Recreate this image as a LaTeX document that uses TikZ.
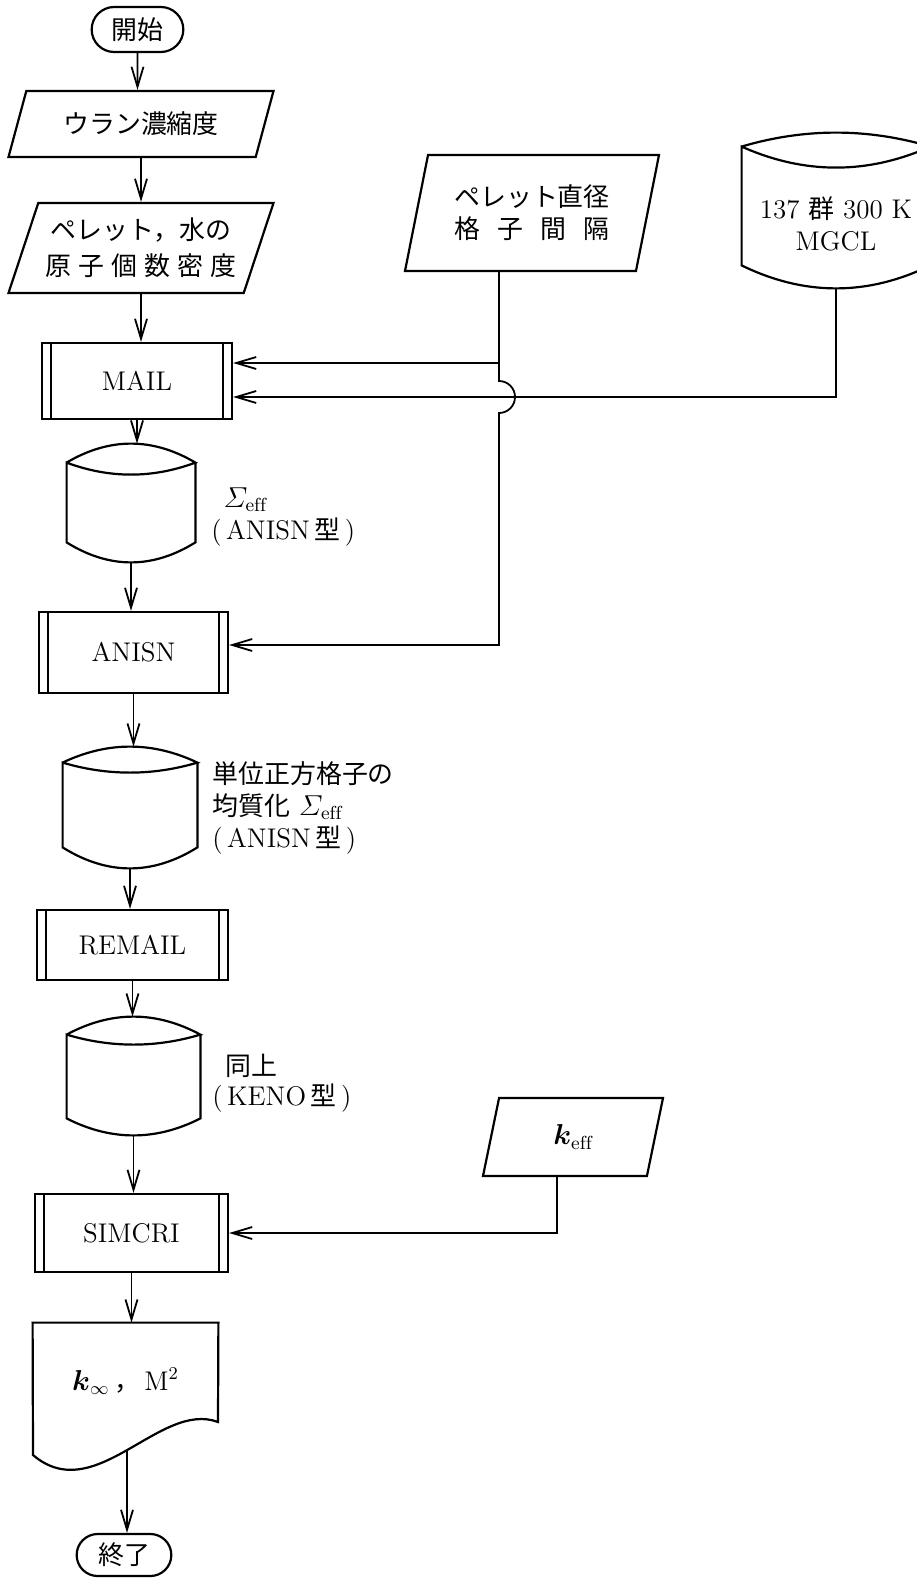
\documentclass[tikz,border=0pt]{standalone}
\usepackage{amsmath}
\usepackage{fontspec}
\newfontfamily\jpfont[Scale=0.96]{Noto Sans CJK JP}
\usetikzlibrary{arrows.meta, shapes.geometric, shapes.misc, calc}

\tikzset{
  flow/.style={line width=0.9pt, -{Straight Barb[length=10pt,width=6pt]}},
  thin line/.style={line width=0.8pt},
  outline/.style={line width=1.1pt},
  terminal/.style={rounded rectangle, draw, outline},
  io/.style args={#1/#2}{trapezium, draw, outline, trapezium left angle=#1,
    trapezium right angle=#2, trapezium stretches body, align=center, inner sep=1pt},
  predef/.style={rectangle, draw, outline,
    path picture={
      \draw[thin line] ([xshift=4.5pt]path picture bounding box.north west) -- ([xshift=4.5pt]path picture bounding box.south west)
        ([xshift=-4.5pt]path picture bounding box.north east) -- ([xshift=-4.5pt]path picture bounding box.south east);
    }},
  store/.style={rectangle, inner sep=0pt, align=center},
  note/.style={anchor=west, align=left, inner sep=0pt},
}

% disk outline round a store node: top bulge, inner sag, bottom bulge
\newcommand{\drum}[4]{%
  \draw[outline]
    ($(#1.north west)+(0,-#2)$) coordinate (tl)
    .. controls ($(#1.north west)!0.333!(#1.north east)+(0,#2/3)$)
            and ($(#1.north west)!0.667!(#1.north east)+(0,#2/3)$)
    .. ($(#1.north east)+(0,-#2)$) coordinate (tr)
    .. controls ($(#1.north west)!0.667!(#1.north east)+(0,{-#2-#3*4/3})$)
            and ($(#1.north west)!0.333!(#1.north east)+(0,{-#2-#3*4/3})$)
    .. (tl)
    -- ($(#1.south west)+(0,#4)$) coordinate (bl)
    .. controls ($(#1.south west)!0.333!(#1.south east)+(0,-#4/3)$)
            and ($(#1.south west)!0.667!(#1.south east)+(0,-#4/3)$)
    .. ($(#1.south east)+(0,#4)$)
    -- (tr);
}

\begin{document}
\begin{tikzpicture}[x=0.5pt, y=0.5pt, font=\fontsize{13.5}{16}\selectfont]
  \useasboundingbox (0,0) rectangle (916,-1578);

  % main column
  \node[terminal, minimum width=52.5pt, minimum height=22.5pt] (start) at (137.5,-29.5) {\jpfont 開始};
  \node[io=57.5/122.5, minimum width=132.5pt, minimum height=33pt] (enrich) at (141,-124) {\jpfont ウラン濃縮度};
  \node[io=65/115, minimum width=132.5pt, minimum height=45pt] (density) at (141,-248)
    {{\jpfont ペレット，水の}\\[2pt]{\jpfont\makebox[7.4em]{原\hfill 子\hfill 個\hfill 数\hfill 密\hfill 度}}};
  \node[predef, minimum width=95pt, minimum height=38pt] (mail) at (137,-381) {MAIL};
  \node[store, minimum width=64pt, minimum height=59pt] (sig) at (131,-503) {};
  \node[predef, minimum width=94.5pt, minimum height=40.5pt] (anisn) at (133.5,-652.5) {ANISN};
  \node[store, minimum width=67pt, minimum height=60.5pt] (hom) at (130,-807.5) {};
  \node[predef, minimum width=95.5pt, minimum height=35pt] (remail) at (132.5,-945) {REMAIL};
  \node[store, minimum width=66.5pt, minimum height=59pt] (keno) at (133.5,-1076) {};
  \node[predef, minimum width=96.5pt, minimum height=39pt] (simcri) at (131.5,-1233) {SIMCRI};
  \node[store, minimum width=92.5pt, minimum height=58.5pt] (doc) at (125.5,-1381.5)
    {$\boldsymbol{k}_{\infty}$\,{\jpfont ，}\,M$^{2}$};
  \node[terminal, minimum width=54pt, minimum height=21pt] (finish) at (124,-1555) {\jpfont 終了};

  % labels beside the disks
  \node[note] (sigtxt) at (211,-517) {\hspace*{0.45em}$\varSigma_{\mathrm{eff}}$\\(\,ANISN\,{\jpfont 型}\,)};
  \node[note] (homtxt) at (212,-808) {{\jpfont 単位正方格子の}\\{\jpfont 均質化} $\varSigma_{\mathrm{eff}}$\\(\,ANISN\,{\jpfont 型}\,)};
  \node[note] (kenotxt) at (212,-1083) {\hspace*{0.5em}{\jpfont 同上}\\[-1pt](\,KENO\,{\jpfont 型}\,)};

  % inputs on the right
  \node[io=69/111, minimum width=127pt, minimum height=58pt] (pitch) at (532,-213)
    {{\jpfont ペレット直径}\\{\jpfont\makebox[6em]{格\hfill 子\hfill 間\hfill 隔}}};
  \node[store, minimum width=94pt, minimum height=77.5pt] (mgcl) at (836,-210.5)
    {\rule{0pt}{24pt}137 {\jpfont 群} 300 K\\MGCL};
  \node[io=60.6/119.4, minimum width=90pt, minimum height=39pt] (keff) at (573,-1137) {$\boldsymbol{k}_{\mathrm{eff}}$};

  % disk and document outlines
  \drum{sig}{19}{12}{20}
  \drum{hom}{16}{10}{21}
  \drum{keno}{18}{10}{17}
  \drum{mgcl}{14}{21}{23}
  \draw[outline] (doc.north west) -- (doc.north east) -- (218,-1422)
    .. controls (160,-1400) and (95,-1508) .. coordinate[pos=0.5] (wave) (33,-1455) -- cycle;

  % flow down the column
  \foreach \a/\b in {start/enrich, enrich/density, density/mail, mail/sig, sig/anisn,
                     anisn/hom, hom/remail, remail/keno, keno/simcri, simcri/doc}
    \draw[flow] (\a) -- (\a |- \b.north);
  \draw[flow] (wave) -- (wave |- finish.north);

  % side inputs
  \coordinate (pitchfoot) at ([xshift=-16.5pt]pitch.south);
  \coordinate (mailin1) at ([yshift=9pt]mail.east);
  \coordinate (mailin2) at ([yshift=-8pt]mail.east);
  \coordinate (hop) at (pitchfoot |- mailin2);
  \coordinate (anisnin) at ([yshift=3.75pt]anisn.east);
  \coordinate (kefffoot) at ([xshift=-8pt]keff.south);
  \draw[flow] (pitchfoot) |- (mailin1);
  \draw[flow] (pitchfoot) -- ([yshift=8pt]hop) arc[start angle=90, end angle=-90, radius=8pt] |- (anisnin);
  \draw[flow] (mgcl) |- (mailin2);
  \draw[flow] (kefffoot) |- (simcri.east);
\end{tikzpicture}
\end{document}
